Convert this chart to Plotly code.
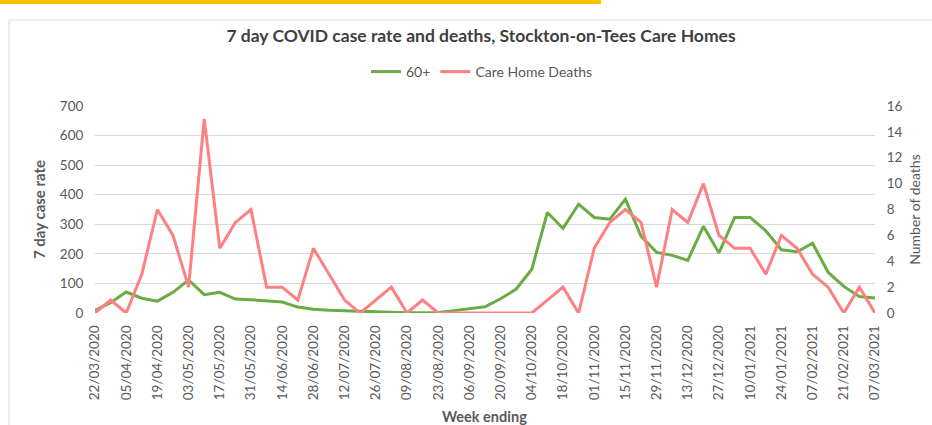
import plotly.graph_objects as go

# Weekly data, week ending 22/03/2020 to 07/03/2021
weeks = [
    "22/03/2020", "29/03/2020", "05/04/2020", "12/04/2020", "19/04/2020", "26/04/2020",
    "03/05/2020", "10/05/2020", "17/05/2020", "24/05/2020", "31/05/2020", "07/06/2020",
    "14/06/2020", "21/06/2020", "28/06/2020", "05/07/2020", "12/07/2020", "19/07/2020",
    "26/07/2020", "02/08/2020", "09/08/2020", "16/08/2020", "23/08/2020", "30/08/2020",
    "06/09/2020", "13/09/2020", "20/09/2020", "27/09/2020", "04/10/2020", "11/10/2020",
    "18/10/2020", "25/10/2020", "01/11/2020", "08/11/2020", "15/11/2020", "22/11/2020",
    "29/11/2020", "06/12/2020", "13/12/2020", "20/12/2020", "27/12/2020", "03/01/2021",
    "10/01/2021", "17/01/2021", "24/01/2021", "31/01/2021", "07/02/2021", "14/02/2021",
    "21/02/2021", "28/02/2021", "07/03/2021",
]

case_rate_60 = [
    9, 35, 71, 50, 40, 70, 112, 62, 70, 47, 45, 40,
    37, 20, 13, 9, 7, 5, 3, 2, 1, 1, 2, 8,
    14, 21, 48, 81, 148, 340, 286, 368, 323, 317, 385, 260,
    205, 195, 178, 293, 203, 323, 323, 278, 214, 207, 236, 137,
    90, 56, 51,
]

care_home_deaths = [
    0, 1, 0, 3, 8, 6, 2, 15, 5, 7, 8, 2,
    2, 1, 5, 3, 1, 0, 1, 2, 0, 1, 0, 0,
    0, 0, 0, 0, 0, 1, 2, 0, 5, 7, 8, 7,
    2, 8, 7, 10, 6, 5, 5, 3, 6, 5, 3, 2,
    0, 2, 0,
]

tick_labels = weeks[::2]

grey = "#595959"
font = "Lato, 'Open Sans', sans-serif"

fig = go.Figure()

fig.add_trace(go.Scatter(
    x=weeks, y=case_rate_60, name="60+", mode="lines",
    line=dict(color="#6AAB45", width=3),
))
fig.add_trace(go.Scatter(
    x=weeks, y=care_home_deaths, name="Care Home Deaths", mode="lines",
    line=dict(color="#FF8080", width=3), yaxis="y2",
))

# plot area geometry in pixels (for placing shapes in paper coords)
L, R, T, B = 95, 875, 106, 313
W, H = R - L, B - T

def px(xp):
    return (xp - L) / W

def py(yp):
    return (B - yp) / H

fig.update_layout(
    width=932, height=425,
    margin=dict(l=L, r=932 - R, t=T, b=425 - B, autoexpand=False),
    paper_bgcolor="white", plot_bgcolor="white",
    font=dict(family=font, color=grey, size=12),
    title=dict(
        text="<b>7 day COVID case rate and deaths, Stockton-on-Tees Care Homes</b>",
        x=481 / 932, xanchor="center", y=1 - 36 / 425, yanchor="middle",
        font=dict(size=17.5, color="#404040"),
    ),
    showlegend=True,
    legend=dict(
        orientation="h", x=px(482), xanchor="center", y=py(72), yanchor="middle",
        font=dict(size=14, color=grey), bgcolor="rgba(0,0,0,0)",
    ),
    xaxis=dict(
        type="category", range=[0, len(weeks) - 1], automargin=False,
        tickmode="array", tickvals=tick_labels, ticktext=tick_labels,
        tickangle=-90, showgrid=False, zeroline=False,
        showline=False, ticks="outside", ticklen=6, tickcolor="rgba(0,0,0,0)",
        tickfont=dict(size=13.5, color=grey),
    ),
    yaxis=dict(
        range=[0, 700], dtick=100, showgrid=True, gridcolor="#D9D9D9",
        gridwidth=1, zeroline=False, ticks="outside", ticklen=8,
        tickcolor="rgba(0,0,0,0)", automargin=False,
        tickfont=dict(size=13.5, color=grey),
        title=dict(text="<b>7 day case rate</b>", font=dict(size=15, color=grey), standoff=10),
    ),
    yaxis2=dict(
        range=[0, 16], dtick=2, overlaying="y", side="right", showgrid=False,
        zeroline=False, ticks="outside", ticklen=8, tickcolor="rgba(0,0,0,0)",
        automargin=False, tickfont=dict(size=13.5, color=grey),
        title=dict(text="Number of deaths", font=dict(size=14, color=grey), standoff=8),
    ),
    annotations=[
        dict(text="<b>Week ending</b>", xref="paper", yref="paper",
             x=px(484), y=py(416), xanchor="center", yanchor="middle",
             showarrow=False, font=dict(size=14.5, color=grey)),
    ],
    shapes=[
        # chart border
        dict(type="rect", xref="paper", yref="paper",
             x0=px(9), x1=px(1000), y0=py(20), y1=py(500),
             line=dict(color="#D9D9D9", width=1), fillcolor="rgba(0,0,0,0)", layer="below"),
        # orange bar at top
        dict(type="rect", xref="paper", yref="paper",
             x0=px(-5), x1=px(601), y0=py(0), y1=py(4),
             line=dict(width=0), fillcolor="#FFC000"),
    ],
)

# drop the browser's default body margin so the figure sits at the page corner
fig.write_html("out.html", config={"displayModeBar": False},
               post_script="document.body.style.margin='0';")
